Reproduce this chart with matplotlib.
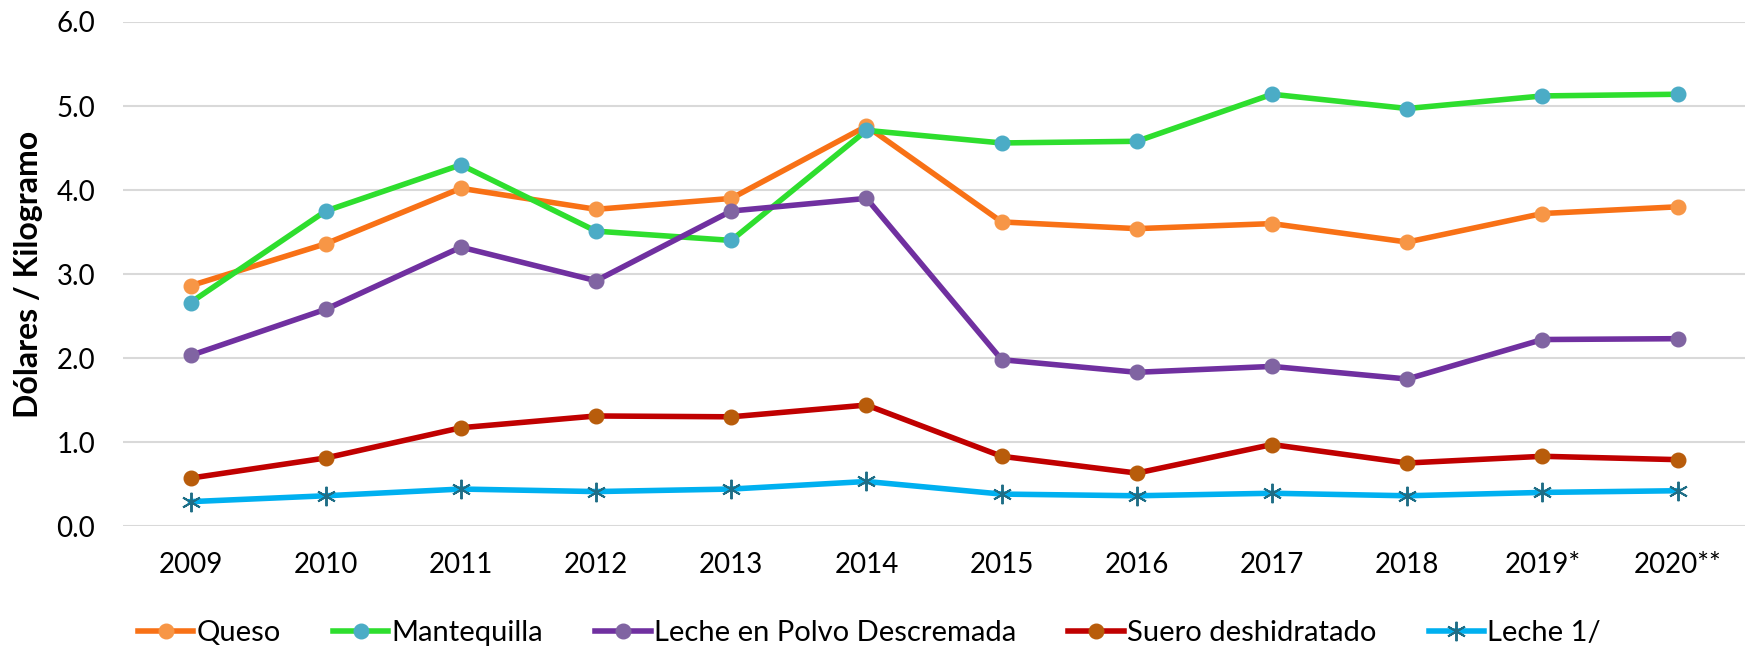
import matplotlib.pyplot as plt

years = ["2009", "2010", "2011", "2012", "2013", "2014", "2015", "2016",
         "2017", "2018", "2019*", "2020**"]

queso = [2.86, 3.36, 4.02, 3.77, 3.90, 4.76, 3.62, 3.54, 3.60, 3.38, 3.72, 3.80]
mantequilla = [2.66, 3.75, 4.30, 3.51, 3.40, 4.71, 4.56, 4.58, 5.14, 4.97, 5.12, 5.14]
leche_polvo = [2.03, 2.58, 3.32, 2.92, 3.75, 3.90, 1.98, 1.83, 1.90, 1.75, 2.22, 2.23]
suero = [0.57, 0.81, 1.17, 1.31, 1.30, 1.44, 0.83, 0.63, 0.97, 0.75, 0.83, 0.79]
leche = [0.29, 0.36, 0.44, 0.41, 0.44, 0.53, 0.38, 0.36, 0.39, 0.36, 0.40, 0.42]

plt.rcParams['font.family'] = ['Lato', 'DejaVu Sans']

fig = plt.figure(figsize=(17.54, 6.47), dpi=100)
ax = fig.add_axes([0.0701, 0.187, 0.9249, 0.779])

x = list(range(len(years)))
lw = 4.0
ms = 10.5

ax.plot(x, queso, color="#F87116", lw=lw, marker="o", ms=ms,
        mfc="#F79646", mec="#F79646", label="Queso", zorder=3)
ax.plot(x, mantequilla, color="#2EDE2E", lw=lw, marker="o", ms=ms,
        mfc="#4BACC6", mec="#4BACC6", label="Mantequilla", zorder=3)
ax.plot(x, leche_polvo, color="#7030A0", lw=lw, marker="o", ms=ms,
        mfc="#8064A2", mec="#8064A2", label="Leche en Polvo Descremada", zorder=3)
ax.plot(x, suero, color="#C00000", lw=lw, marker="o", ms=ms,
        mfc="#B85C0B", mec="#B85C0B", label="Suero deshidratado", zorder=3)
ax.plot(x, leche, color="#00B0F0", lw=lw, marker=(6, 2, 0), ms=14, mew=1.4,
        mec="#1F6E86", mfc="#1F6E86", label="Leche 1/", zorder=3)

ax.set_xlim(-0.5, len(years) - 0.5)
ax.set_ylim(0, 6)
ax.set_yticks([0, 1, 2, 3, 4, 5, 6])
ax.set_yticklabels([f"{v:.1f}" for v in range(7)])
ax.set_xticks(x)
ax.set_xticklabels(years)
ax.tick_params(axis="both", length=0, labelsize=20, colors="black")
ax.tick_params(axis="y", pad=20)
ax.tick_params(axis="x", pad=19)
ax.grid(axis="y", color="#D9D9D9", lw=1.5)
ax.set_axisbelow(True)
for s in ax.spines.values():
    s.set_visible(False)

ax.set_ylabel("Dólares / Kilogramo", fontsize=23, fontweight="bold")
ax.yaxis.set_label_coords(-0.0494, 0.5)

ax.legend(loc="center", bbox_to_anchor=(0.46, -0.213), ncol=5, frameon=False,
          fontsize=21, handlelength=1.9, handletextpad=0.1, columnspacing=1.8)

fig.savefig("out.png", dpi=100)
